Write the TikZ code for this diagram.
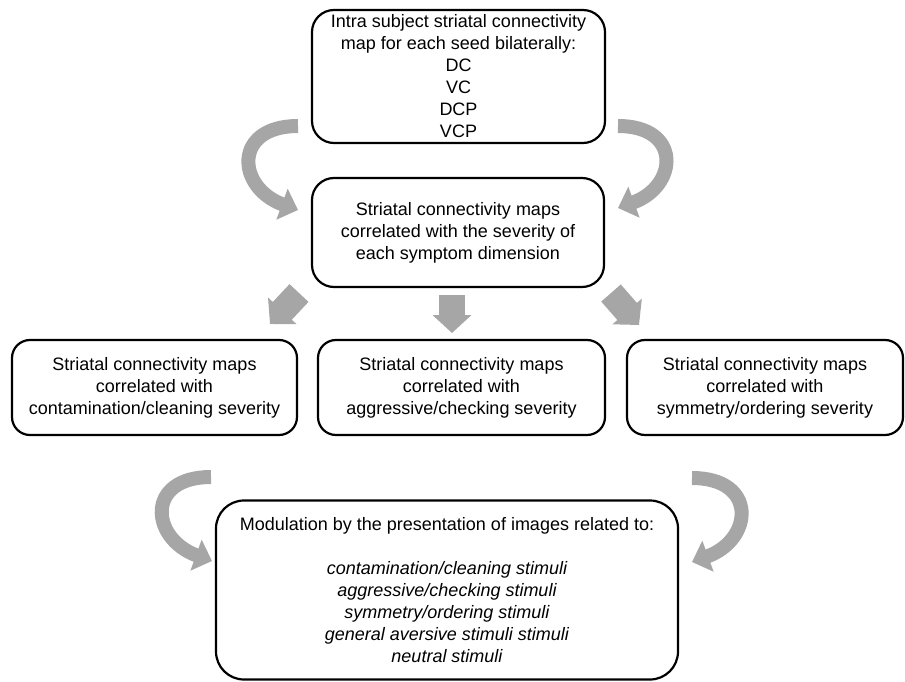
\documentclass[tikz,border=0pt]{standalone}
\usepackage{fontspec}
\setmainfont{Liberation Sans}
\usetikzlibrary{arrows.meta}
\definecolor{arrowgray}{HTML}{A6A6A6}
\begin{document}
\begin{tikzpicture}[x=1pt,y=-1pt,
    box/.style={draw,line width=2.2pt,rounded corners=22pt,align=center,inner sep=0pt,font=\fontsize{18}{22}\selectfont},
    curved/.style={line width=14pt,arrowgray,-{Triangle[length=17pt,width=32pt]}},
    block/.style={line width=26pt,arrowgray,-{Triangle[length=18pt,width=38pt]}}]
    \useasboundingbox (0,0) rectangle (905,682);
    % boxes
    \node[box,minimum width=293pt,minimum height=133pt](seeds) at (458.5,76.5){Intra subject striatal connectivity\\map for each seed bilaterally:\\DC\\VC\\DCP\\VCP};
    \node[box,minimum width=292pt,minimum height=109pt](maps) at (458,232.5){Striatal connectivity maps\\correlated with the severity of\\each symptom dimension};
    \node[box,rounded corners=18pt,minimum width=285pt,minimum height=95pt](clean) at (154.5,387.5){Striatal connectivity maps\\correlated with\\contamination/cleaning severity};
    \node[box,rounded corners=18pt,minimum width=287pt,minimum height=95pt](check) at (461.5,387.5){Striatal connectivity maps\\correlated with\\aggressive/checking severity};
    \node[box,rounded corners=18pt,minimum width=276pt,minimum height=95pt](order) at (765,387.5){Striatal connectivity maps\\correlated with\\symmetry/ordering severity};
    \node[box,rounded corners=28pt,minimum width=462pt,minimum height=179pt](stim) at (447,590){Modulation by the presentation of images related to:\\[22pt]\itshape contamination/cleaning stimuli\\\itshape aggressive/checking stimuli\\\itshape symmetry/ordering stimuli\\\itshape general aversive stimuli stimuli\\\itshape neutral stimuli};
    % arrow ends
    \coordinate (tl1) at (298,126); \coordinate (tl2) at (298,210);
    \coordinate (tr1) at (618,126); \coordinate (tr2) at (618,208);
    \coordinate (bl1) at (211,477); \coordinate (bl2) at (212,561);
    \coordinate (br1) at (692,478); \coordinate (br2) at (692,562);
    \coordinate (dl1) at (299,293); \coordinate (dl2) at (270,324);
    \coordinate (dc1) at (452,295); \coordinate (dc2) at (452,333);
    \coordinate (dr1) at (611,293); \coordinate (dr2) at (639,325);
    % curved arrows
    \draw[curved] (tl1) to[out=180,in=160,looseness=2] (tl2);
    \draw[curved] (tr1) to[out=0,in=20,looseness=2] (tr2);
    \draw[curved] (bl1) to[out=180,in=160,looseness=2] (bl2);
    \draw[curved] (br1) to[out=0,in=20,looseness=2] (br2);
    % straight arrows
    \draw[block] (dl1) -- (dl2);
    \draw[block] (dc1) -- (dc2);
    \draw[block] (dr1) -- (dr2);
\end{tikzpicture}
\end{document}
